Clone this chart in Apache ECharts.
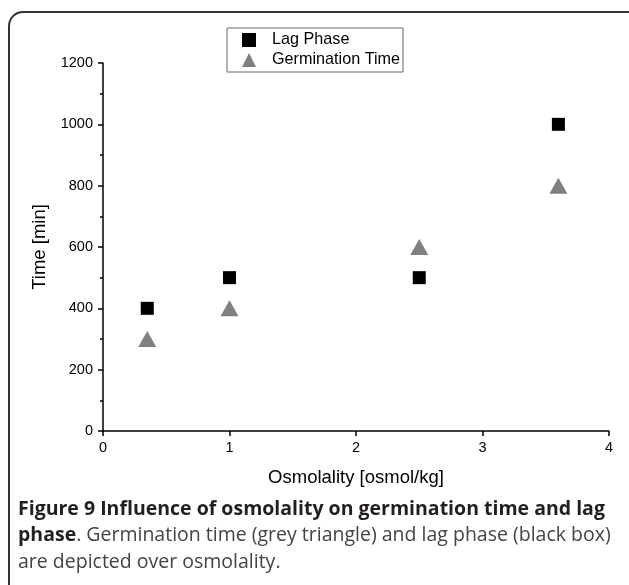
<!DOCTYPE html>
<html>
<head>
<meta charset="utf-8">
<script src="https://cdn.jsdelivr.net/npm/echarts@6/dist/echarts.min.js"></script>
<style>
  html, body { margin: 0; padding: 0; background: #fff; }
  #chart { width: 629px; height: 585px; }
</style>
</head>
<body>
<div id="chart"></div>
<script>
// osmolality [osmol/kg] for each measurement
const osmolality = [0.35, 1, 2.5, 3.6];
// time [min]
const lagPhase = [400, 500, 500, 1000];
const germinationTime = [300, 400, 600, 800];

const seriesNames = ["Lag Phase", "Germination Time"];
const captionBold = "Figure 9 Influence of osmolality on germination time and lag";
const captionBold2 = "phase";
const captionRest = ". Germination time (grey triangle) and lag phase (black box)";
const captionLast = "are depicted over osmolality.";

const axisFont = "Liberation Sans, Arial, sans-serif";
const captionFont = "Open Sans, Noto Sans, sans-serif";

const chart = echarts.init(document.getElementById("chart"), null, { renderer: "canvas" });

const pairs = (ys) => osmolality.map((x, i) => [x, ys[i]]);

chart.setOption({
  animation: false,
  backgroundColor: "#fff",
  grid: { left: 103, right: 20, top: 63, bottom: 154 },
  legend: {
    left: 227,
    top: 28,
    orient: "vertical",
    data: seriesNames,
    itemWidth: 14,
    itemHeight: 14,
    itemGap: 4,
    padding: [4, 3, 4, 15],
    borderColor: "#666",
    borderWidth: 1,
    textStyle: { fontFamily: axisFont, fontSize: 16.2, lineHeight: 14, color: "#000", padding: [0, 0, 0, 11] }
  },
  xAxis: {
    type: "value",
    min: 0,
    max: 4,
    interval: 1,
    name: "Osmolality [osmol/kg]",
    nameLocation: "middle",
    nameGap: 37,
    nameTextStyle: { fontFamily: axisFont, fontSize: 18.5, color: "#000" },
    splitLine: { show: false },
    axisLine: { show: true, lineStyle: { color: "#000", width: 1.5 } },
    axisTick: { show: true, inside: false, length: 5, lineStyle: { color: "#000", width: 1.5 } },
    axisLabel: { fontFamily: axisFont, fontSize: 14.5, color: "#000", margin: 9 }
  },
  yAxis: {
    type: "value",
    min: 0,
    max: 1200,
    interval: 200,
    name: "Time [min]",
    nameLocation: "middle",
    nameGap: 52,
    nameTextStyle: { fontFamily: axisFont, fontSize: 18.5, color: "#000" },
    splitLine: { show: false },
    axisLine: { show: true, lineStyle: { color: "#000", width: 1.5 } },
    axisTick: { show: true, inside: false, length: 5, lineStyle: { color: "#000", width: 1.5 } },
    minorTick: { show: true, splitNumber: 2, length: 3, lineStyle: { color: "#000", width: 1.5 } },
    axisLabel: {
      fontFamily: axisFont,
      fontSize: 14.5,
      color: "#000",
      margin: 10,
      formatter: (v) => String(v)
    }
  },
  series: [
    {
      name: seriesNames[0],
      type: "scatter",
      symbol: "rect",
      symbolSize: 13,
      itemStyle: { color: "#000", opacity: 1 },
      data: pairs(lagPhase)
    },
    {
      name: seriesNames[1],
      type: "scatter",
      symbol: "triangle",
      symbolSize: [18, 16],
      itemStyle: { color: "#808080", opacity: 1 },
      data: pairs(germinationTime)
    }
  ],
  graphic: [
    {
      type: "rect",
      silent: true,
      shape: { x: 9, y: 12, width: 660, height: 640, r: 14 },
      style: { fill: null, stroke: "#333", lineWidth: 2 }
    },
    {
      type: "text",
      left: 18,
      top: 499,
      style: {
        text: "{b|" + captionBold + "}\n{b|" + captionBold2 + "}{n|" + captionRest + "}\n{n|" + captionLast + "}",
        rich: {
          b: { fontFamily: captionFont, fontSize: 19.5, fontWeight: "bold", fill: "#231f20", lineHeight: 26.5 },
          n: { fontFamily: captionFont, fontSize: 19.5, fill: "#444", lineHeight: 26.5 }
        }
      }
    }
  ]
});
</script>
</body>
</html>
